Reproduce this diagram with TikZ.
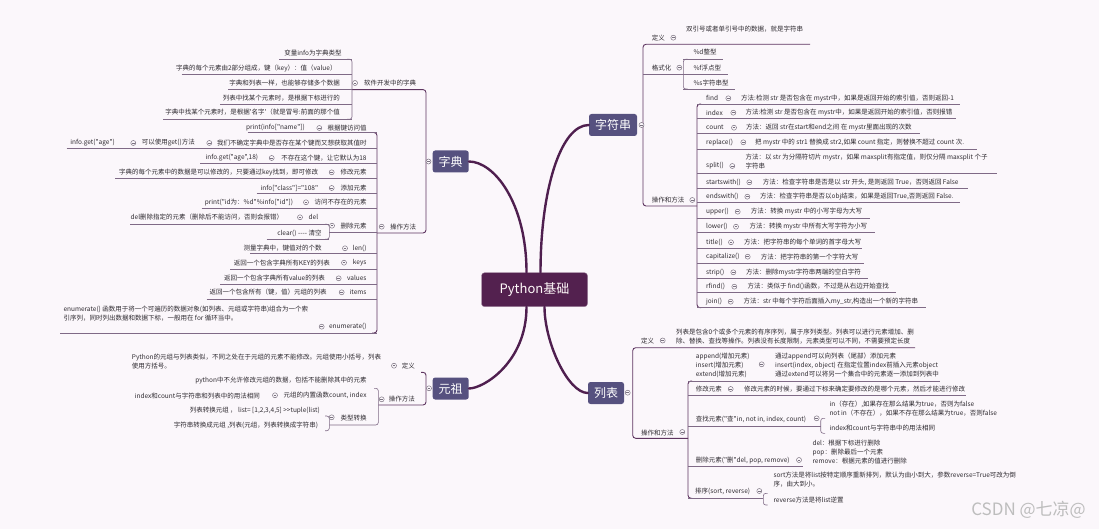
\documentclass[tikz,border=0pt]{standalone}
\usepackage{fontspec}
\setmainfont{Noto Sans CJK SC}[Ligatures=TeXOff]
\usepackage{xcolor}
\usepackage{tikz}
\usetikzlibrary{positioning,calc}
\definecolor{pagebg}{HTML}{FBF7FB}
\definecolor{rootfill}{HTML}{53214F}
\definecolor{branchfill}{HTML}{56517F}
\definecolor{trunk}{HTML}{4F1F4F}
\definecolor{twig}{HTML}{7F6A86}
\definecolor{stem}{HTML}{5E3560}
\definecolor{inktext}{HTML}{2E2A30}
\definecolor{iconring}{HTML}{7A7280}
\definecolor{markgray}{HTML}{BDBDBD}

\begin{document}
\begin{tikzpicture}[
    x=1pt, y=-1pt,
    root/.style={rectangle, rounded corners=3pt, fill=rootfill, draw=rootfill!55, minimum width=106pt, minimum height=34pt, text=white!90!pink, font=\fontsize{13}{15}\selectfont},
    branch/.style={rectangle, rounded corners=2.5pt, fill=branchfill, minimum height=22pt, inner xsep=6pt, text=white, font=\fontsize{12}{14}\selectfont},
    lbl/.style={inner sep=0pt, text=inktext, font=\fontsize{6.5}{9}\selectfont},
    lblL/.style={lbl, anchor=east},
    lblR/.style={lbl, anchor=west},
    ico/.style={circle, draw=iconring, line width=0.5pt, fill=pagebg, minimum size=5pt, inner sep=0pt,
        path picture={\draw[iconring, line width=0.5pt] ([xshift=-1.4pt]path picture bounding box.center) -- ([xshift=1.4pt]path picture bounding box.center);}},
    ul/.style={draw=twig, line width=0.6pt, rounded corners=2.5pt},
    bk/.style={draw=stem, line width=0.9pt, rounded corners=3pt},
    trunkline/.style={draw=trunk, line width=2.4pt, line cap=round}
]
    \fill[pagebg] (0,0) rectangle (1099,529);
    \useasboundingbox (0,0) rectangle (1099,529);

    % --- CENTER AND MAIN BRANCHES ---
    \node[root] (root) at (534.5,289.7) {Python基础};
    \node[branch] (dict) at (450.7,161.5) {字典};
    \node[branch] (tuple) at (450.7,388.5) {元祖};
    \node[branch] (str) at (613,125) {字符串};
    \node[branch] (list) at (606,393) {列表};

    \draw[trunkline] (dict.east) .. controls +(25,0) and +(0,-70) .. ([xshift=-8pt]root.north);
    \draw[trunkline] (tuple.east) .. controls +(15,0) and +(0,55) .. ([xshift=-8pt]root.south);
    \draw[trunkline] ([xshift=6pt]root.north) .. controls +(0,-83) and +(-28,0) .. (str.west);
    \draw[trunkline] ([xshift=10pt]root.south) .. controls +(0,35) and +(-20,0) .. (list.west);

    % --- DICT: LEVEL ONE ---
    \draw[bk] (352,89.6) -- (426,89.6) -- (426,233) -- (377,233);
    \node[ico] (dictDot) at (428.5,161.5) {};
    \node[lblR] (dictSoft) at (364,83) {软件开发中的字典};
    \node[lblR] (dictOps) at (390,226.7) {操作方法};

    % --- DICT: SOFTWARE DEV ---
    \draw[ul] (347,59.3) -- (352,59.3) -- (352,119.3) -- (347,119.3);
    \node[ico] (dictSoftDot) at (355,83) {};
    \node[lblL] (softA) at (341.7,53.3) {变量info为字典类型};
    \draw[ul] (279,59.3) -- (352,59.3);
    \node[lblL] (softB) at (336.7,68.3) {字典的每个元素由2部分组成，键（key）：值（value）};
    \draw[ul] (181.7,74.7) -- (352,74.7);
    \node[lblL] (softC) at (340,83.3) {字典和列表一样，也能够存储多个数据};
    \draw[ul] (228,89.6) -- (352,89.6);
    \node[lblL] (softD) at (340,98.3) {列表中找某个元素时，是根据下标进行的};
    \draw[ul] (220,104.7) -- (352,104.7);
    \node[lblL] (softE) at (340,112.3) {字典中找某个元素时，是根据'名字'（就是冒号:前面的那个值};
    \draw[ul] (163,119.3) -- (352,119.3);

    % --- DICT: OPERATIONS ---
    \draw[bk] (372,132.5) -- (377,132.5) -- (377,333) -- (372,333);
    \node[ico] (dictOpsDot) at (381.7,226.7) {};

    \node[lblL] (opsA) at (366.7,128) {根据键访问值};
    \node[ico] (opsADot) at (319.3,128) {};
    \node[lblL] (opsAx) at (305,128) {print(info["name"])};
    \draw[ul] (247.7,132.5) -- (377,132.5);

    \node[lblL] (opsB) at (366.7,143) {我们不确定字典中是否存在某个键而又想获取其值时};
    \node[ico] (opsBDot) at (209.3,143) {};
    \node[lblL] (opsBx) at (195,143) {可以使用get()方法};
    \node[ico] (opsBxDot) at (133.3,143) {};
    \node[lblL] (opsBxx) at (115,143) {info.get("age")};
    \draw[ul] (66.7,148) -- (377,148);

    \node[lblL] (opsC) at (366.7,158) {不存在这个键，让它默认为18};
    \node[ico] (opsCDot) at (271.7,158) {};
    \node[lblL] (opsCx) at (258.3,158) {info.get("age",18)};
    \draw[ul] (200,163) -- (377,163);

    \node[lblL] (opsD) at (366.7,172.3) {修改元素};
    \node[ico] (opsDDot) at (331.7,172.3) {};
    \node[lblL] (opsDx) at (318.3,172.3) {字典的每个元素中的数据是可以修改的，只要通过key找到，即可修改};
    \draw[ul] (115,178.7) -- (377,178.7);

    \node[lblL] (opsE) at (366.7,188) {添加元素};
    \node[ico] (opsEDot) at (331.7,188) {};
    \node[lblL] (opsEx) at (318.3,188) {info["class"]="108"};
    \draw[ul] (256.7,193.5) -- (377,193.5);

    \node[lblL] (opsF) at (366.7,202.3) {访问不存在的元素};
    \node[ico] (opsFDot) at (306,202.3) {};
    \node[lblL] (opsFx) at (293.3,202.3) {print("id为：\%d"\%info["id"])};
    \draw[ul] (201.7,208.7) -- (377,208.7);

    \node[lblL] (opsG) at (366.7,225.7) {删除元素};
    \draw[ul] (329.3,232.3) -- (377,232.3);
    \draw[ul] (325,224.3) -- (329.3,224.3) -- (329.3,239.3) -- (325,239.3);
    \node[ico] (opsGDot) at (332,225.7) {};
    \node[lblL] (opsGa) at (318.3,217.3) {del};
    \node[ico] (opsGaDot) at (300,217.3) {};
    \node[lblL] (opsGax) at (283.3,217.3) {del删除指定的元素（删除后不能访问，否则会报错）};
    \draw[ul] (130,224.3) -- (329.3,224.3);
    \node[lblL] (opsGb) at (321.7,233.3) {clear() ---- 清空};
    \draw[ul] (266.7,239.3) -- (329.3,239.3);

    \node[lblL] (opsH) at (366.7,248.3) {len()};
    \node[ico] (opsHDot) at (345,248.3) {};
    \node[lblL] (opsHx) at (321.7,248.3) {测量字典中，键值对的个数};
    \draw[ul] (250,253.5) -- (377,253.5);

    \node[lblL] (opsI) at (366.7,262.7) {keys};
    \node[ico] (opsIDot) at (344,262.7) {};
    \node[lblL] (opsIx) at (330,262.7) {返回一个包含字典所有KEY的列表};
    \draw[ul] (230,269.3) -- (377,269.3);

    \node[lblL] (opsJ) at (366.7,278.3) {values};
    \node[ico] (opsJDot) at (338.7,278.3) {};
    \node[lblL] (opsJx) at (325,278.3) {返回一个包含字典所有value的列表};
    \draw[ul] (220,284) -- (377,284);

    \node[lblL] (opsK) at (366.7,292.3) {items};
    \node[ico] (opsKDot) at (341.7,292.3) {};
    \node[lblL] (opsKx) at (326.7,292.3) {返回一个包含所有（键，值）元组的列表};
    \draw[ul] (206.7,299) -- (377,299);

    \node[lblL] (opsL) at (366.7,326.7) {enumerate()};
    \node[ico] (opsLDot) at (321.7,326.7) {};
    \node[lblR, align=left] (opsLx) at (63.3,313.3) {enumerate() 函数用于将一个可遍历的数据对象(如列表、元组或字符串)组合为一个索\\引序列，同时列出数据和数据下标，一般用在 for 循环当中。};
    \draw[ul] (60,333) -- (377,333);

    % --- TUPLE ---
    \draw[bk] (421,372.3) -- (426,372.3) -- (426,405) -- (378.3,405);
    \node[ico] (tupleDot) at (429,388.3) {};
    \node[lblL] (tupDef) at (415,365.7) {定义};
    \node[ico] (tupDefDot) at (394,365.7) {};
    \node[lblR, align=left] (tupDefx) at (131.7,361.2) {Python的元组与列表类似，不同之处在于元组的元素不能修改。元组使用小括号，列表\\使用方括号。};
    \node[lblL] (tupOps) at (415,399.3) {操作方法};

    \draw[ul] (374,388.3) -- (378.3,388.3) -- (378.3,425) -- (329.3,425);
    \node[ico] (tupOpsDot) at (381.7,399.3) {};
    \node[lblL] (tupA) at (366.7,381) {python中不允许修改元组的数据，包括不能删除其中的元素};
    \node[lblL] (tupB) at (366.7,395.7) {元组的内置函数count, index};
    \node[ico] (tupBDot) at (275,395.3) {};
    \node[lblL] (tupBx) at (260,395.7) {index和count与字符串和列表中的用法相同};
    \node[lblL] (tupC) at (366.7,418.3) {类型转换};
    \draw[ul] (325,416) -- (329.3,416) -- (329.3,430.7) -- (325,430.7);
    \node[ico] (tupCDot) at (331.7,417.3) {};
    \node[lblL] (tupCa) at (320,411) {列表转换元组 ， list= [1,2,3,4,5] >>tuple(list)};
    \node[lblL] (tupCb) at (318.3,425.7) {字符串转换成元组 ,列表(元组，列表转换成字符串)};

    % --- STRING: LEVEL ONE ---
    \draw[bk] (810,44.3) -- (643,44.3) -- (643,206) -- (697,206);
    \node[ico] (strDot) at (641.5,125) {};
    \node[lblR] (strDef) at (651.7,37.7) {定义};
    \node[ico] (strDefDot) at (673.3,37.7) {};
    \node[lblR] (strDefx) at (686,29) {双引号或者单引号中的数据，就是字符串};

    \node[lblR] (strFmt) at (651.7,67.7) {格式化};
    \node[ico] (strFmtDot) at (679.3,67.7) {};
    \draw[ul] (643,74.5) -- (683.3,74.5);
    \draw[ul] (687.5,59.3) -- (683.3,59.3) -- (683.3,89) -- (687.5,89);
    \node[lblR] (fmtD) at (693.3,51.7) {\%d整型};
    \draw[ul] (683.3,59.3) -- (722.7,59.3);
    \node[lblR] (fmtF) at (693.3,67.7) {\%f浮点型};
    \draw[ul] (683.3,74.5) -- (728.3,74.5);
    \node[lblR] (fmtS) at (693.3,83.3) {\%s字符串型};
    \draw[ul] (683.3,89) -- (735,89);

    \node[lblR] (strOps) at (651.7,200) {操作和方法};

    % --- STRING: METHODS ---
    \draw[bk] (701,104) -- (697,104) -- (697,307.7) -- (701,307.7);
    \node[ico] (strOpsDot) at (692.3,200) {};

    \node[lblR] (sFind) at (706,98.3) {find};
    \node[ico] (sFindDot) at (728.3,98.3) {};
    \node[lblR] (sFindx) at (741,98.3) {方法:检测 str 是否包含在 mystr中，如果是返回开始的索引值，否则返回-1};
    \draw[ul] (697,104) -- (960,104);

    \node[lblR] (sIndex) at (706,112.7) {index};
    \node[ico] (sIndexDot) at (733.3,112.7) {};
    \node[lblR] (sIndexx) at (745.3,112.7) {方法:检测 str 是否包含在 mystr中，如果是返回开始的索引值，否则报错};
    \draw[ul] (697,118.3) -- (956,118.3);

    \node[lblR] (sCount) at (706,127.7) {count};
    \node[ico] (sCountDot) at (734,127.7) {};
    \node[lblR] (sCountx) at (746,127.7) {方法：返回 str在start和end之间 在 mystr里面出现的次数};
    \draw[ul] (697,133.7) -- (920,133.7);

    \node[lblR] (sReplace) at (706,142.3) {replace()};
    \node[ico] (sReplaceDot) at (743.3,142.3) {};
    \node[lblR] (sReplacex) at (755,142.3) {把 mystr 中的 str1 替换成 str2,如果 count 指定，则替换不超过 count 次.};
    \draw[ul] (697,149) -- (977,149);

    \node[lblR] (sSplit) at (706,166) {split()};
    \node[ico] (sSplitDot) at (732.3,166) {};
    \node[lblR, align=left] (sSplitx) at (745.3,161.9) {方法：以 str 为分隔符切片 mystr，如果 maxsplit有指定值，则仅分隔 maxsplit 个子\\字符串};
    \draw[ul] (697,173.3) -- (997,173.3);

    \node[lblR] (sStarts) at (706,182.3) {startswith()};
    \node[ico] (sStartsDot) at (749.3,182.3) {};
    \node[lblR] (sStartsx) at (762.7,182.3) {方法：检查字符串是否是以 str 开头, 是则返回 True，否则返回 False};
    \draw[ul] (697,188.3) -- (968,188.3);

    \node[lblR] (sEnds) at (706,196.7) {endswith()};
    \node[ico] (sEndsDot) at (747.3,196.7) {};
    \node[lblR] (sEndsx) at (760,196.7) {方法：检查字符串是否以obj结束，如果是返回True,否则返回 False.};
    \draw[ul] (697,202.7) -- (960,202.7);

    \node[lblR] (sUpper) at (706,211.7) {upper()};
    \node[ico] (sUpperDot) at (737.7,211.7) {};
    \node[lblR] (sUpperx) at (750.7,211.7) {方法：转换 mystr 中的小写字母为大写};
    \draw[ul] (697,218.3) -- (870,218.3);

    \node[lblR] (sLower) at (706,226.7) {lower()};
    \node[ico] (sLowerDot) at (736,226.7) {};
    \node[lblR] (sLowerx) at (749.3,226.7) {方法：转换 mystr 中所有大写字符为小写};
    \draw[ul] (697,232.7) -- (875,232.7);

    \node[lblR] (sTitle) at (706,242.3) {title()};
    \node[ico] (sTitleDot) at (731,242.3) {};
    \node[lblR] (sTitlex) at (744,242.3) {方法：把字符串的每个单词的首字母大写};
    \draw[ul] (697,248.3) -- (862,248.3);

    \node[lblR] (sCap) at (706,256.7) {capitalize()};
    \node[ico] (sCapDot) at (747.7,256.7) {};
    \node[lblR] (sCapx) at (760.7,256.7) {方法：把字符串的第一个字符大写};
    \draw[ul] (697,263.3) -- (864,263.3);

    \node[lblR] (sStrip) at (706,272.3) {strip()};
    \node[ico] (sStripDot) at (733.3,272.3) {};
    \node[lblR] (sStripx) at (746,272.3) {方法：删除mystr字符串两端的空白字符};
    \draw[ul] (697,278.3) -- (868,278.3);

    \node[lblR] (sRfind) at (706,286.7) {rfind()};
    \node[ico] (sRfindDot) at (734.3,286.7) {};
    \node[lblR] (sRfindx) at (747.3,286.7) {方法：类似于 find()函数，不过是从右边开始查找};
    \draw[ul] (697,292.7) -- (896,292.7);

    \node[lblR] (sJoin) at (706,301.7) {join()};
    \node[ico] (sJoinDot) at (730.7,301.7) {};
    \node[lblR] (sJoinx) at (743.3,301.7) {方法：str 中每个字符后面插入my\_str,构造出一个新的字符串};
    \draw[ul] (697,307.7) -- (926,307.7);

    % --- LIST: LEVEL ONE ---
    \draw[bk] (915,347.7) -- (632.7,347.7) -- (632.7,438.3) -- (688,438.3);
    \node[ico] (listDot) at (627.7,392.7) {};
    \node[lblR] (lstDef) at (641,341) {定义};
    \node[ico] (lstDefDot) at (662.7,340.5) {};
    \node[lblR, align=left] (lstDefx) at (676,336.2) {列表是包含0个或多个元素的有序序列，属于序列类型。列表可以进行元素增加、删\\除、替换、查找等操作。列表没有长度限制，元素类型可以不同，不需要预定长度};
    \node[lblR] (lstOps) at (641,432.7) {操作和方法};

    % --- LIST: METHODS ---
    \draw[bk] (692,381) -- (688,381) -- (688,498.3) -- (692,498.3);
    \node[ico] (lstOpsDot) at (682.3,432) {};

    \node[lblR, align=left] (lstAdd) at (695.7,365) {append(增加元素)\\insert(增加元素)\\extend(增加元素)};
    \node[ico] (lstAddDot) at (761.7,364.3) {};
    \node[lblR, align=left] (lstAddx) at (775,365) {通过append可以向列表（尾部）添加元素\\insert(index, object) 在指定位置index前插入元素object\\通过extend可以将另一个集合中的元素逐一添加到列表中};
    \draw[ul] (688,381) -- (940,381);

    \node[lblR] (lstMod) at (695.7,389) {修改元素};
    \node[ico] (lstModDot) at (730.7,389) {};
    \node[lblR] (lstModx) at (744,389) {修改元素的时候，要通过下标来确定要修改的是哪个元素，然后才能进行修改};
    \draw[ul] (688,395.7) -- (966,395.7);

    \node[lblR] (lstFind) at (695.7,419.3) {查找元素("查"in, not in, index, count)};
    \draw[ul] (688,426.7) -- (820.7,426.7);
    \draw[ul] (825,418.3) -- (820.7,418.3) -- (820.7,433.3) -- (825,433.3);
    \node[ico] (lstFindDot) at (816.7,418.3) {};
    \node[lblR, align=left] (lstFindA) at (829.3,408.3) {in（存在）,如果存在那么结果为true，否则为false\\not in（不存在），如果不存在那么结果为true，否则false};
    \node[lblR] (lstFindB) at (829.3,427.7) {index和count与字符串中的用法相同};

    \node[lblR] (lstDel) at (695.7,460.7) {删除元素("删"del, pop, remove)};
    \node[ico] (lstDelDot) at (799,460) {};
    \node[lblR, align=left] (lstDelx) at (812.3,451.7) {del：根据下标进行删除\\pop：删除最后一个元素\\remove：根据元素的值进行删除};
    \draw[ul] (688,466.7) -- (803,466.7);

    \node[lblR] (lstSort) at (695,491.7) {排序(sort, reverse)};
    \draw[ul] (688,498.3) -- (763.3,498.3);
    \draw[ul] (767.5,493.3) -- (763.3,493.3) -- (763.3,505) -- (767.5,505);
    \node[ico] (lstSortDot) at (759.3,491) {};
    \node[lblR, align=left] (lstSortA) at (773.3,479.5) {sort方法是将list按特定顺序重新排列，默认为由小到大，参数reverse=True可改为倒\\序，由大到小。};
    \node[lblR] (lstSortB) at (773.3,500) {reverse方法是将list逆置};

    % --- WATERMARK ---
    \node[anchor=east, inner sep=0pt, text=markgray, font=\fontsize{17}{17}\selectfont] (mark) at (1086,510) {CSDN @七凉@};
\end{tikzpicture}
\end{document}
